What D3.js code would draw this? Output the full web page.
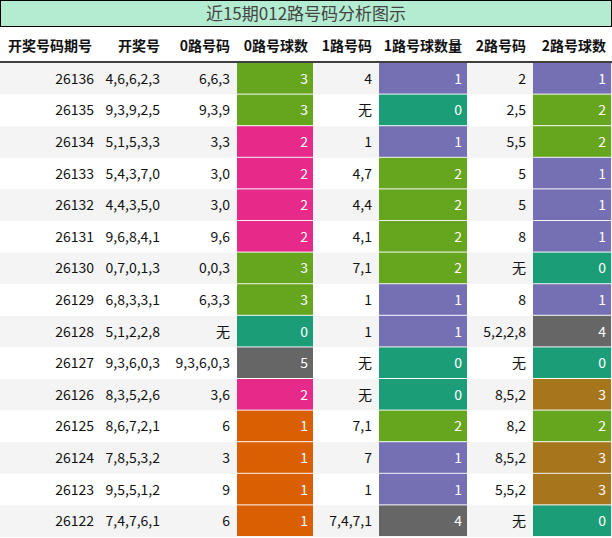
<!DOCTYPE html>
<html><head><meta charset="utf-8">
<script src="https://cdn.jsdelivr.net/npm/d3@7"></script>
<style>body{margin:0;background:#fff}</style>
</head><body><svg width="612" height="538"></svg>
<script>
// data
const title = '近15期012路号码分析图示';
const headers = ['开奖号码期号', '开奖号', '0路号码', '0路号球数', '1路号码', '1路号球数量', '2路号码', '2路号球数'];
const periods = ['26136','26135','26134','26133','26132','26131','26130','26129','26128','26127','26126','26125','26124','26123','26122'];
const draws = ['4,6,6,2,3','9,3,9,2,5','5,1,5,3,3','5,4,3,7,0','4,4,3,5,0','9,6,8,4,1','0,7,0,1,3','6,8,3,3,1','5,1,2,2,8','9,3,6,0,3','8,3,5,2,6','8,6,7,2,1','7,8,5,3,2','9,5,5,1,2','7,4,7,6,1'];
const road0 = ['6,6,3','9,3,9','3,3','3,0','3,0','9,6','0,0,3','6,3,3','无','9,3,6,0,3','3,6','6','3','9','6'];
const count0 = [3,3,2,2,2,2,3,3,0,5,2,1,1,1,1];
const road1 = ['4','无','1','4,7','4,4','4,1','7,1','1','1','无','无','7,1','7','1','7,4,7,1'];
const count1 = [1,0,1,2,2,2,2,1,1,0,0,2,1,1,4];
const road2 = ['2','2,5','5,5','5','5','8','无','8','5,2,2,8','无','8,5,2','8,2','8,5,2','5,5,2','无'];
const count2 = [1,2,2,1,1,1,0,1,4,0,3,2,3,3,0];

const palette = d3.schemeDark2;
// per-column value -> palette index
const colorIdx = [{0:0,1:1,2:3,3:4,5:7}, {0:0,1:2,2:4,4:7}, {0:0,1:2,2:4,3:6,4:7}];

const svg = d3.select('svg');
const colEdges = [0, 100, 166, 236, 314, 378, 468, 532, 612];
const x = d3.scaleOrdinal().domain(d3.range(8)).range(colEdges.slice(0, 8));
const y = d3.scaleBand().domain(d3.range(15)).range([63, 537]);

// title
svg.append('rect').attr('x', 0.5).attr('y', 0.5).attr('width', 611).attr('height', 26)
  .attr('fill', '#b3ecd0').attr('stroke', '#000');
svg.append('text').attr('x', 306).attr('y', 20).attr('text-anchor', 'middle')
  .attr('font-family', 'Noto Sans CJK SC, serif').attr('font-size', 17).attr('fill', '#444').text(title);

// header
svg.selectAll('.hd').data(headers).enter().append('text')
  .attr('x', (d, i) => i === 0 ? 50 : colEdges[i + 1] - 6)
  .attr('text-anchor', (d, i) => i === 0 ? 'middle' : 'end')
  .attr('y', 51).attr('font-family', 'Noto Sans CJK SC').attr('font-weight', 'bold')
  .attr('font-size', 14).attr('fill', '#111').text(d => d);
svg.append('line').attr('x1', 0).attr('x2', 612).attr('y1', 62).attr('y2', 62).attr('stroke', '#000').attr('stroke-width', 1.5);

const rows = periods.map((p, i) => [p, draws[i], road0[i], count0[i], road1[i], count1[i], road2[i], count2[i]]);

const g = svg.selectAll('.row').data(rows).enter().append('g')
  .attr('transform', (d, i) => `translate(0,${y(i)})`);
g.append('rect').attr('width', 612).attr('height', y.bandwidth())
  .attr('fill', (d, i) => i % 2 === 0 ? '#f4f4f4' : '#fff');

g.each(function(row) {
  const sel = d3.select(this);
  row.forEach((v, c) => {
    const isCount = c === 3 || c === 5 || c === 7;
    if (isCount) {
      const k = (c - 3) / 2;
      sel.append('rect').attr('x', colEdges[c] + 1).attr('y', 0)
        .attr('width', colEdges[c + 1] - colEdges[c] - 2).attr('height', y.bandwidth() - 1)
        .attr('fill', palette[colorIdx[k][v]]);
    }
    sel.append('text').attr('x', colEdges[c + 1] - 6).attr('y', y.bandwidth() / 2 + 5)
      .attr('text-anchor', 'end').attr('font-family', 'Noto Sans CJK SC, Roboto').attr('font-size', 14)
      .attr('fill', isCount ? '#fff' : '#111').text(v);
  });
});
</script></body></html>
